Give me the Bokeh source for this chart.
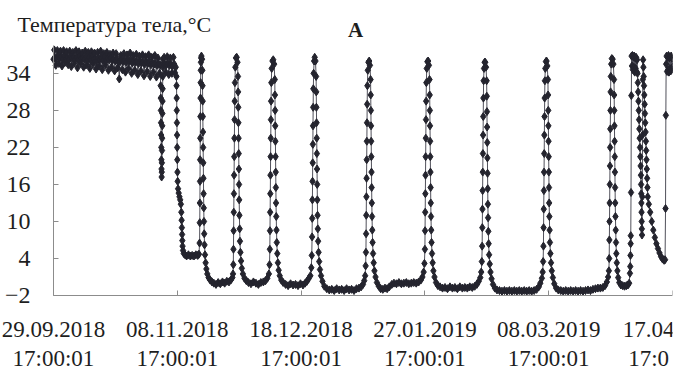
from bokeh.plotting import figure
from bokeh.models import Range1d, FixedTicker, Label, ColumnDataSource
from bokeh.embed import file_html
from bokeh.resources import INLINE

# ---------------- data (days since 29.09.2018 17:00:01, body temperature, °C) -------------
x_ticks = [0, 40, 80, 120, 160, 200]
x_tick_labels = ["29.09.2018\n17:00:01", "08.11.2018\n17:00:01", "18.12.2018\n17:00:01",
                 "27.01.2019\n17:00:01", "08.03.2019\n17:00:01", "17.04\n17:0"]
y_ticks = [-2, 4, 10, 16, 22, 28, 34]

prehib_day = [0.0, 0.25, 0.5, 0.75, 1.0, 1.25, 1.5, 1.75, 2.0, 2.25,
              2.5, 2.75, 3.0, 3.25, 3.5, 3.75, 4.0, 4.25, 4.5, 4.75,
              5.0, 5.25, 5.5, 5.75, 6.0, 6.25, 6.5, 6.75, 7.0, 7.25,
              7.5, 7.75, 8.0, 8.25, 8.5, 8.75, 9.0, 9.25, 9.5, 9.75,
              10.0, 10.25, 10.5, 10.75, 11.0, 11.25, 11.5, 11.75, 12.0, 12.25,
              12.5, 12.75, 13.0, 13.25, 13.5, 13.75, 14.0, 14.25, 14.5, 14.75,
              15.0, 15.25, 15.5, 15.75, 16.0, 16.25, 16.5, 16.75, 17.0, 17.25,
              17.5, 17.75, 18.0, 18.25, 18.5, 18.75, 19.0, 19.25, 19.5, 19.75,
              20.0, 20.25, 20.5, 20.75, 21.0, 21.25, 21.5, 21.75, 22.0, 22.25,
              22.5, 22.75, 23.0, 23.25, 23.5, 23.75, 24.0, 24.25, 24.5, 24.75,
              25.0, 25.25, 25.5, 25.75, 26.0, 26.25, 26.5, 26.75, 27.0, 27.25,
              27.5, 27.75, 28.0, 28.25, 28.5, 28.75, 29.0, 29.25, 29.5, 29.75,
              30.0, 30.25, 30.5, 30.75, 31.0, 31.25, 31.5, 31.75, 32.0, 32.25,
              32.5, 32.75, 33.0, 33.25, 33.5, 33.75, 34.0, 34.25, 34.5,
              34.62, 34.66, 34.70, 34.74, 34.78, 34.82, 34.86, 34.90, 34.94, 34.98,
              35.02, 35.06, 35.10, 35.14, 35.18, 35.22, 35.26, 35.30, 35.34, 35.38,
              35.5, 35.75, 36.0, 36.25, 36.5, 36.75, 37.0, 37.25, 37.5, 37.75,
              38.0, 38.25, 38.5, 38.75, 39.0, 39.25, 39.5]
prehib_temp = [36.3, 37.8, 36.6, 35.3, 36.4, 37.7, 36.8, 35.6, 36.5, 37.6,
               36.7, 35.2, 36.3, 37.7, 36.9, 35.8, 36.4, 37.5, 36.6, 35.4,
               36.2, 37.6, 36.8, 35.1, 36.5, 37.4, 36.7, 35.7, 36.3, 37.7,
               36.6, 34.9, 36.2, 37.5, 36.8, 35.6, 36.4, 37.3, 36.5, 35.0,
               36.3, 37.6, 36.7, 35.4, 36.1, 37.4, 36.6, 34.8, 36.2, 37.5,
               36.8, 35.5, 36.3, 37.3, 36.4, 34.7, 36.0, 37.4, 36.6, 35.2,
               36.2, 37.6, 36.5, 34.6, 36.1, 37.2, 36.7, 35.3, 36.0, 37.4,
               36.4, 34.5, 36.2, 37.1, 36.5, 35.0, 36.1, 37.3, 36.3, 34.4,
               36.0, 37.2, 36.4, 34.9, 35.8, 33.1, 35.9, 36.9, 36.2, 34.6,
               35.9, 37.2, 36.1, 34.2, 35.8, 37.0, 36.2, 34.8, 36.0, 37.3,
               36.1, 34.0, 35.7, 36.9, 36.0, 34.5, 35.8, 37.1, 35.9, 33.8,
               35.6, 36.8, 36.0, 34.4, 35.7, 37.0, 35.8, 33.6, 35.5, 36.7,
               35.9, 34.3, 35.6, 37.0, 35.8, 33.5, 35.4, 36.6, 35.7, 34.2,
               35.5, 36.9, 35.6, 33.4, 35.3, 36.5, 35.5, 34.0, 35.4,
               32.0, 30.0, 28.0, 26.0, 24.0, 22.0, 20.0, 18.5, 17.2, 18.0,
               19.5, 21.5, 23.5, 25.5, 27.5, 29.5, 31.5, 33.5, 35.0, 36.3,
               35.6, 36.6, 35.5, 34.2, 35.4, 36.7, 35.6, 33.8, 35.3, 36.5,
               35.4, 34.0, 35.2, 36.6, 35.5, 34.1, 35.0]

bout1_day = [39.72, 39.76, 39.80, 39.84, 39.88, 39.92, 39.96, 40.00, 40.05, 40.12, 40.25, 40.45,
             40.70, 40.95, 41.15, 41.30, 41.40, 41.48, 41.55, 41.62, 41.70, 41.85, 42.10, 42.50,
             43.0, 43.6, 44.2, 44.8, 45.4, 46.0, 46.6, 47.0,
             47.20, 47.26, 47.30, 47.34, 47.38, 47.42, 47.46, 47.50, 47.54, 47.58, 47.63, 47.70, 47.80,
             48.0,
             48.10, 48.15, 48.20, 48.25, 48.30, 48.35, 48.40, 48.45, 48.50, 48.55, 48.62, 48.70,
             48.80, 48.95, 49.15, 49.40, 49.70, 50.10, 50.60, 51.20]
bout1_temp = [33.5, 32.0, 30.0, 28.0, 26.0, 24.0, 22.0, 20.0, 18.0, 16.5, 15.3, 14.6,
              14.0, 13.5, 12.8, 11.5, 10.2, 9.0, 7.9, 6.9, 6.0, 5.3, 4.8, 4.6,
              4.4, 4.6, 4.4, 4.5, 4.4, 4.6, 4.5, 4.7,
              6.5, 9.8, 13.0, 16.5, 20.0, 23.5, 27.0, 30.0, 32.5, 34.5, 35.8, 36.5, 36.8,
              36.3,
              34.5, 32.0, 29.5, 27.0, 24.5, 22.0, 19.5, 17.0, 14.5, 12.2, 10.0, 8.0,
              6.2, 4.6, 3.3, 2.3, 1.5, 0.9, 0.5, 0.2]

bout2_day = [51.8, 52.5, 53.2, 53.9, 54.6, 55.3, 56.0, 56.7, 57.3, 57.8,
             58.00, 58.10, 58.15, 58.20, 58.25, 58.30, 58.35, 58.40, 58.45, 58.50, 58.55, 58.62, 58.75, 58.95,
             59.20, 59.45,
             59.60, 59.65, 59.70, 59.75, 59.80, 59.85, 59.90, 59.95, 60.00, 60.07, 60.15, 60.25,
             60.40, 60.60, 60.85, 61.20, 61.70, 62.30]
bout2_temp = [0.0, -0.2, 0.1, -0.1, 0.2, 0.0, 0.3, 0.2, 0.5, 0.9,
              1.5, 3.0, 5.5, 8.5, 11.5, 14.5, 17.5, 20.5, 23.5, 26.5, 29.5, 32.5, 35.0, 36.5,
              36.6, 35.8,
              33.5, 31.0, 28.5, 26.0, 23.5, 21.0, 18.5, 16.0, 13.5, 11.0, 8.8, 6.8,
              5.0, 3.6, 2.4, 1.5, 0.8, 0.4]

bout3_day = [63.0, 63.8, 64.6, 65.4, 66.2, 67.0, 67.8, 68.5, 69.1,
             69.60, 69.80, 69.90, 69.95, 70.00, 70.05, 70.10, 70.15, 70.20, 70.25, 70.30, 70.38, 70.50, 70.75,
             71.00, 71.30,
             71.50, 71.55, 71.60, 71.65, 71.70, 71.75, 71.80, 71.85, 71.90, 71.97, 72.05, 72.15,
             72.30, 72.50, 72.75, 73.10, 73.60, 74.20]
bout3_temp = [0.1, -0.1, 0.2, 0.0, -0.2, 0.1, 0.2, 0.4, 0.8,
              1.5, 3.0, 5.5, 8.5, 11.5, 14.5, 17.5, 20.5, 23.5, 26.5, 29.5, 32.5, 34.8, 36.0,
              36.2, 35.5,
              33.0, 30.5, 28.0, 25.5, 23.0, 20.5, 18.0, 15.5, 13.0, 10.8, 8.6, 6.6,
              4.8, 3.3, 2.1, 1.2, 0.5, 0.1]

bout4_day = [75.0, 75.8, 76.6, 77.4, 78.2, 79.0, 79.8, 80.6, 81.3, 81.9, 82.4,
             83.00, 83.30, 83.45, 83.55, 83.60, 83.65, 83.70, 83.75, 83.80, 83.85, 83.90, 83.95, 84.05, 84.20,
             84.40, 84.65,
             84.85, 84.90, 84.95, 85.00, 85.05, 85.10, 85.15, 85.20, 85.25, 85.32, 85.40, 85.50,
             85.65, 85.85, 86.10, 86.45, 86.90, 87.50]
bout4_temp = [-0.2, -0.4, -0.1, -0.3, -0.2, -0.4, -0.1, -0.3, 0.0, 0.3, 0.7,
              1.2, 2.5, 4.5, 7.5, 10.5, 13.5, 16.5, 19.5, 22.5, 25.5, 28.5, 31.5, 34.0, 36.0,
              36.6, 36.0,
              33.5, 31.0, 28.5, 26.0, 23.5, 21.0, 18.5, 16.0, 13.5, 11.0, 8.8, 6.8,
              5.0, 3.5, 2.2, 1.2, 0.3, -0.5]

bout5_day = [88.3, 89.1, 89.9, 90.7, 91.5, 92.3, 93.1, 93.9, 94.7, 95.5, 96.3, 97.1, 97.9, 98.7,
             99.4, 100.0, 100.4,
             100.70, 100.85, 100.95, 101.00, 101.05, 101.10, 101.15, 101.20, 101.25, 101.30, 101.35,
             101.42, 101.55, 101.75,
             102.00, 102.25,
             102.45, 102.50, 102.55, 102.60, 102.65, 102.70, 102.75, 102.80, 102.85, 102.92, 103.00,
             103.10, 103.25, 103.45, 103.70, 104.05, 104.50, 105.10]
bout5_temp = [-0.9, -1.1, -1.0, -1.2, -0.9, -1.1, -1.0, -1.2, -0.9, -1.1, -1.0, -1.2, -0.9, -0.8,
              -0.6, -0.2, 0.4,
              1.2, 2.8, 5.0, 8.0, 11.0, 14.0, 17.0, 20.0, 23.0, 26.0, 29.0,
              32.0, 34.5, 35.8,
              36.0, 35.3,
              33.0, 30.5, 28.0, 25.5, 23.0, 20.5, 18.0, 15.5, 13.0, 10.8, 8.6,
              6.6, 4.8, 3.3, 2.0, 1.0, 0.1, -0.5]

bout6_day = [105.7, 106.4, 107.1, 107.8, 108.5, 109.3, 110.0, 110.8, 111.6, 112.4, 113.2, 114.0,
             114.8, 115.6, 116.4, 117.2, 118.0, 118.7, 119.2,
             119.60, 119.85, 120.00, 120.05, 120.10, 120.15, 120.20, 120.25, 120.30, 120.35, 120.40,
             120.47, 120.60, 120.80,
             121.05, 121.30,
             121.50, 121.55, 121.60, 121.65, 121.70, 121.75, 121.80, 121.85, 121.90, 121.97, 122.05,
             122.15, 122.30, 122.50, 122.75, 123.10, 123.60, 124.20]
bout6_temp = [-0.9, -1.0, -0.8, -0.9, -0.6, -0.2, 0.0, -0.1, 0.1, -0.1, 0.0, 0.1,
              -0.1, 0.0, 0.1, 0.0, 0.2, 0.5, 1.0,
              1.8, 3.2, 5.5, 8.5, 11.5, 14.5, 17.5, 20.5, 23.5, 26.5, 29.5,
              32.5, 34.8, 35.9,
              36.0, 35.3,
              33.0, 30.5, 28.0, 25.5, 23.0, 20.5, 18.0, 15.5, 13.0, 10.8, 8.6,
              6.6, 4.8, 3.3, 2.0, 1.0, 0.1, -0.4]

bout7_day = [124.9, 125.7, 126.5, 127.3, 128.1, 128.9, 129.7, 130.5, 131.3, 132.1, 132.9, 133.7,
             134.5, 135.3, 136.1, 136.8, 137.4, 137.9,
             138.20, 138.40, 138.50, 138.55, 138.60, 138.65, 138.70, 138.75, 138.80, 138.85, 138.90,
             138.97, 139.10, 139.30,
             139.50, 139.75,
             139.95, 140.00, 140.05, 140.10, 140.15, 140.20, 140.25, 140.30, 140.35, 140.42, 140.50,
             140.60, 140.75, 140.95, 141.20, 141.55, 142.00, 142.60]
bout7_temp = [-0.6, -0.8, -0.7, -0.9, -0.6, -0.8, -0.7, -0.9, -0.6, -0.8, -0.7, -0.8,
              -0.6, -0.7, -0.5, -0.2, 0.3, 0.9,
              1.8, 3.5, 6.0, 9.0, 12.0, 15.0, 18.0, 21.0, 24.0, 27.0, 30.0,
              32.8, 34.8, 35.8,
              35.8, 35.0,
              32.8, 30.3, 27.8, 25.3, 22.8, 20.3, 17.8, 15.3, 12.8, 10.6, 8.4,
              6.4, 4.6, 3.1, 1.8, 0.7, -0.2, -0.8]

bout8_day = [143.3, 144.1, 144.9, 145.7, 146.5, 147.3, 148.1, 148.9, 149.7, 150.5, 151.3, 152.1,
             152.9, 153.7, 154.5, 155.3, 156.1, 156.8, 157.3, 157.8,
             158.05, 158.20, 158.30, 158.35, 158.40, 158.45, 158.50, 158.55, 158.60, 158.65, 158.70,
             158.77, 158.90, 159.10,
             159.30, 159.55,
             159.75, 159.80, 159.85, 159.90, 159.95, 160.00, 160.05, 160.10, 160.15, 160.22, 160.30,
             160.40, 160.55, 160.75, 161.00, 161.35, 161.80, 162.40]
bout8_temp = [-1.1, -1.2, -1.3, -1.2, -1.3, -1.2, -1.3, -1.2, -1.3, -1.2, -1.3, -1.2,
              -1.3, -1.2, -1.3, -1.2, -1.0, -0.6, 0.0, 0.8,
              1.8, 3.5, 6.0, 9.0, 12.0, 15.0, 18.0, 21.0, 24.0, 27.0, 30.0,
              32.8, 34.8, 35.9,
              36.0, 35.2,
              33.0, 30.5, 28.0, 25.5, 23.0, 20.5, 18.0, 15.5, 13.0, 10.8, 8.6,
              6.6, 4.8, 3.3, 2.0, 0.9, -0.1, -0.8]

bout9_day = [163.1, 163.9, 164.7, 165.5, 166.3, 167.1, 167.9, 168.7, 169.5, 170.3, 171.1, 171.9,
             172.7, 173.5, 174.3, 175.1, 175.9, 176.7, 177.5, 178.2, 178.8, 179.2,
             179.45, 179.55, 179.60, 179.65, 179.70, 179.75, 179.80, 179.85, 179.90, 179.95, 180.00,
             180.07, 180.20, 180.40,
             180.65, 180.90,
             181.10, 181.15, 181.20, 181.25, 181.30, 181.35, 181.40, 181.45, 181.50, 181.57, 181.65,
             181.75, 181.85, 182.00, 182.20, 182.45, 182.80, 183.30]
bout9_temp = [-1.1, -1.2, -1.3, -1.2, -1.3, -1.2, -1.3, -1.2, -1.3, -1.2, -1.3, -1.2,
              -1.1, -1.2, -1.0, -0.9, -0.8, -0.8, -0.7, -0.4, 0.2, 1.0,
              2.0, 4.0, 7.0, 10.0, 13.0, 16.0, 19.0, 22.0, 25.0, 28.0, 31.0,
              33.5, 35.5, 36.4,
              36.3, 35.5,
              33.0, 30.5, 28.0, 25.5, 23.0, 20.5, 18.0, 15.5, 13.0, 10.8, 8.6,
              6.6, 4.8, 3.3, 2.0, 0.9, 0.1, -0.3]

spring_day = [183.9, 184.5, 185.1, 185.6, 186.0,
              186.25, 186.35, 186.42, 186.48, 186.52, 186.60, 186.70, 186.78,
              186.90, 187.05, 187.20, 187.35, 187.50, 187.65, 187.80, 187.95, 188.10, 188.25, 188.40,
              188.55, 188.70,
              188.80, 188.90, 189.00, 189.10, 189.20, 189.30, 189.40, 189.50, 189.60, 189.70, 189.80,
              189.85, 189.90, 189.95, 190.00, 190.05, 190.10, 190.15,
              190.25, 190.32, 190.40, 190.50,
              190.60, 190.70, 190.80, 190.90, 191.00, 191.10, 191.20, 191.30, 191.40, 191.50, 191.60,
              191.70, 191.80, 191.90, 192.00, 192.35, 192.80, 193.30, 193.80, 194.30, 194.80, 195.30,
              195.80, 196.30, 196.80, 197.30, 197.60,
              197.75, 197.85, 197.95,
              198.10, 198.25, 198.40, 198.55, 198.70, 198.85, 199.00, 199.15, 199.30, 199.45, 199.60,
              199.75, 199.90, 200.00]
spring_temp = [-0.4, -0.5, -0.4, -0.3, 0.0,
               1.6, 2.7, 4.5, 6.4, 7.7, 14.7, 30.4, 36.8,
               35.2, 36.9, 34.6, 36.7, 35.0, 36.8, 34.2, 36.5, 34.8, 36.6, 34.3,
               36.2, 34.0,
               32.5, 31.0, 29.5, 28.0, 26.5, 25.0, 23.5, 22.0, 20.5, 19.0, 17.5,
               16.0, 14.5, 13.0, 11.5, 10.0, 8.8, 7.8,
               14.0, 24.0, 33.0, 36.2,
               35.0, 33.5, 32.0, 30.5, 29.0, 27.5, 26.0, 24.5, 23.0, 21.5, 20.0,
               18.5, 17.0, 15.5, 14.0, 12.8, 11.5, 10.0, 8.6, 7.4, 6.4, 5.6,
               4.9, 4.3, 3.9, 3.7, 3.8,
               12.1, 27.2, 35.5,
               36.8, 34.3, 36.6, 34.5, 36.9, 34.2, 36.5, 34.8, 36.7, 34.4, 36.8,
               34.6, 36.4, 35.0]

title_text = "Температура тела,°C"
panel_text = "А"

# ---------------- assemble ----------------
days = (prehib_day + bout1_day + bout2_day + bout3_day + bout4_day + bout5_day + bout6_day
        + bout7_day + bout8_day + bout9_day + spring_day)
temps = (prehib_temp + bout1_temp + bout2_temp + bout3_temp + bout4_temp + bout5_temp + bout6_temp
         + bout7_temp + bout8_temp + bout9_temp + spring_temp)
src = ColumnDataSource(data=dict(day=days, temp=temps))

FONT = "Liberation Serif"
TXT = "#1e1e1e"
AX = "#8c8c8c"

# the frame fills the canvas; both axes sit at fixed data locations (day 0, -2 °C)
X0 = -17.124          # day 0 lands 53 px from the left edge
Y0 = -15.614          # -2 °C lands 295 px from the top
Y1 = 45.81
p = figure(width=674, height=379, output_backend="svg", toolbar_location=None,
           x_range=Range1d(X0, 200), y_range=Range1d(Y0, Y1),
           min_border_left=0, min_border_right=2, min_border_top=0, min_border_bottom=0)
p.outline_line_color = None
p.xgrid.visible = False
p.ygrid.visible = False
p.background_fill_color = "white"
p.border_fill_color = "white"

p.line(x="day", y="temp", source=src, line_color="#50505a", line_width=1)
p.scatter(x="day", y="temp", source=src, marker="diamond", size=8,
          fill_color="#24242e", line_color="#24242e")

# axes
p.xaxis.ticker = FixedTicker(ticks=x_ticks)
p.xaxis.major_label_overrides = {t: lab for t, lab in zip(x_ticks, x_tick_labels)}
p.xaxis.fixed_location = -2
p.xaxis.bounds = (0, 200)
p.yaxis.ticker = FixedTicker(ticks=y_ticks)
p.yaxis.fixed_location = 0
p.yaxis.bounds = (-2, 38.5)
for ax in (p.xaxis, p.yaxis):
    ax.axis_line_color = AX
    ax.major_tick_line_color = AX
    ax.major_tick_in = 5
    ax.major_tick_out = 0
    ax.minor_tick_line_color = None
    ax.major_label_text_font = FONT
    ax.major_label_text_color = TXT
p.xaxis.major_label_text_font_size = "23px"
p.yaxis.major_label_text_font_size = "24px"
p.xaxis.major_label_standoff = 22
p.xaxis.major_label_text_line_height = 1.13
p.yaxis.major_label_standoff = 23

p.add_layout(Label(x=-11.63, y=41.84, text=title_text, text_font=FONT, text_font_size="22px",
                   text_color=TXT, text_baseline="alphabetic", text_align="left"))
p.add_layout(Label(x=97.6, y=41.03, text=panel_text, text_font=FONT, text_font_size="21px",
                   text_font_style="bold", text_color=TXT, text_baseline="alphabetic",
                   text_align="center"))

open("out.html", "w").write(file_html(p, INLINE))
